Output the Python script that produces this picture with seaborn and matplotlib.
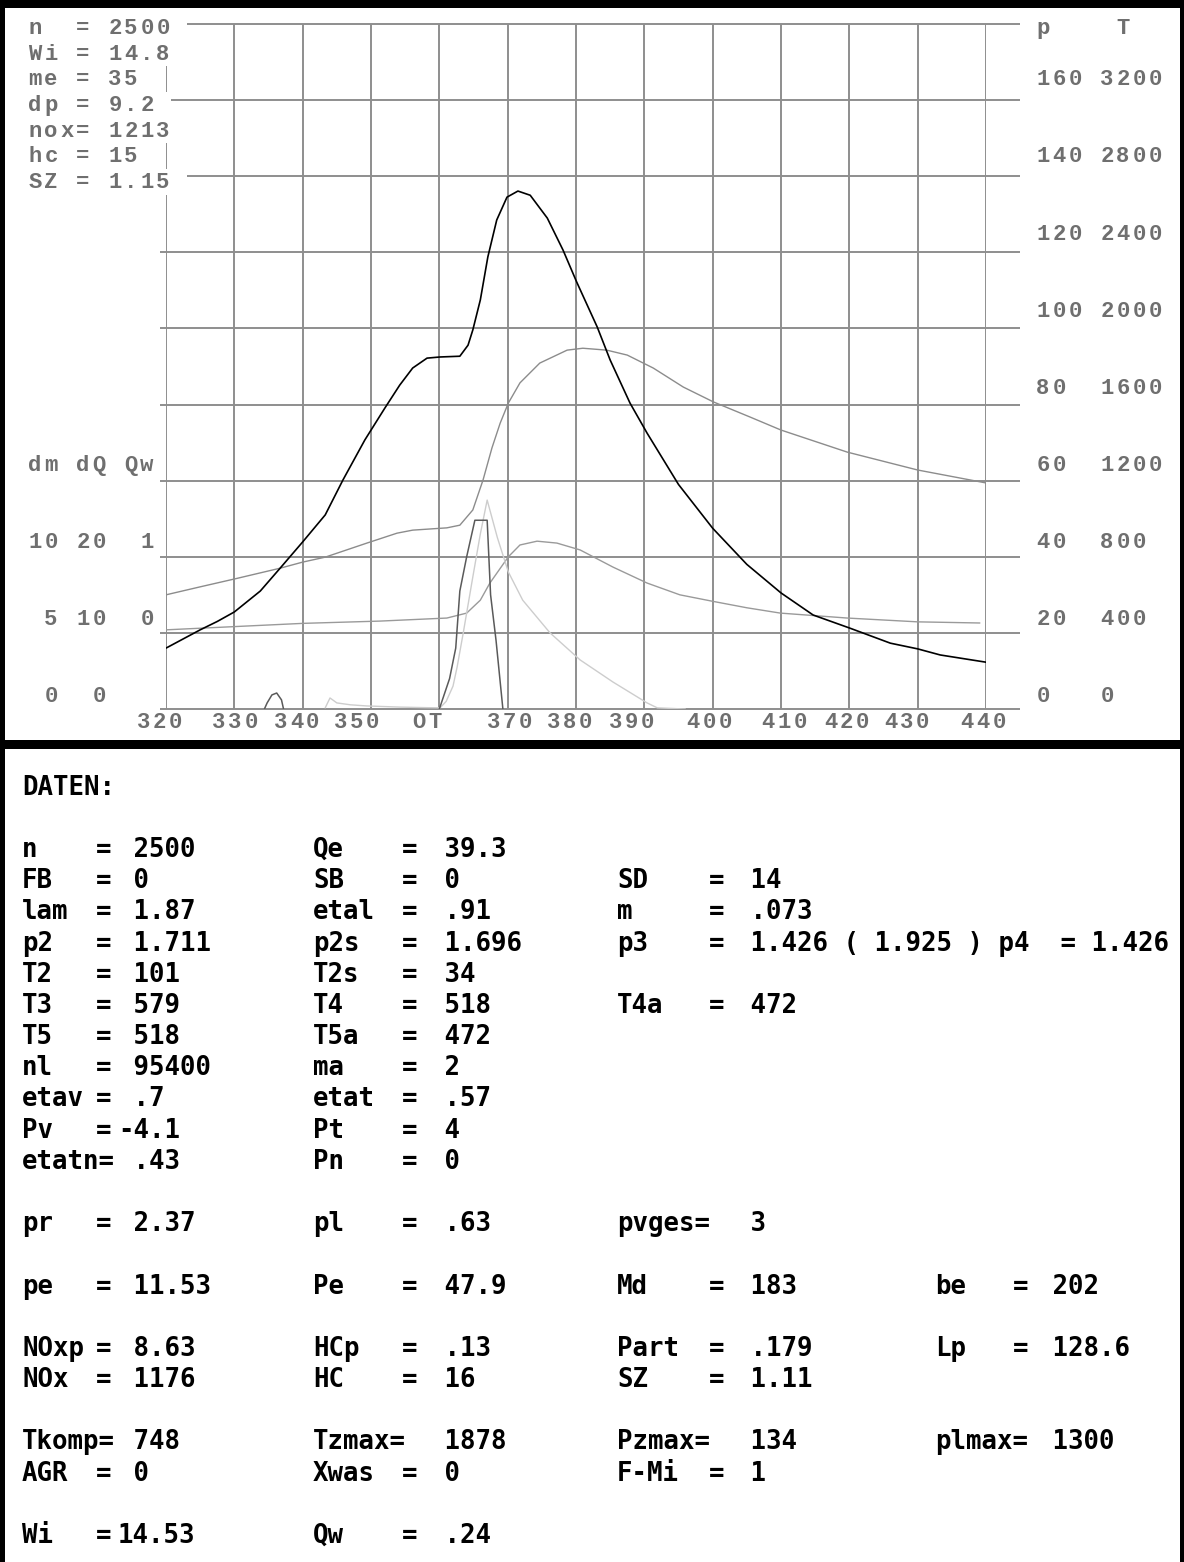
import numpy as np
import pandas as pd
import matplotlib
matplotlib.use("Agg")
import matplotlib.pyplot as plt
from matplotlib.patches import Rectangle
import seaborn as sns

W_PX, H_PX = 1184, 1562
DPI = 100

# crank angle axis
X_GRID = list(range(320, 441, 10))
X_LABELS = ["320", "330", "340", "350", "OT", "370", "380", "390", "400", "410", "420", "430", "440"]
X_LABEL_POS = [319.05, 330.1, 339.1, 347.9, 358.2, 370.3, 379.1, 388.1, 399.5, 410.5, 419.6, 428.4, 439.6]
P_GRID = list(range(0, 181, 20))

# axis scales
P_TICKS = [160, 140, 120, 100, 80, 60, 40, 20, 0]
T_TICKS = [3200, 2800, 2400, 2000, 1600, 1200, 800, 400, 0]
DM_TICKS = [10, 5, 0]
DQ_TICKS = [20, 10, 0]
QW_TICKS = [1, 0]

# run parameters printed in the plot
HEAD_KEYS = ["n", "Wi", "me", "dp", "nox", "hc", "SZ"]
HEAD_VALS = ["2500", "14.8", "35", "9.2", "1213", "15", "1.15"]

# cylinder pressure p [bar]
P_DEG = [320, 325, 327.5, 330, 333.8, 336.7, 340, 343.3, 345.9, 349.1, 352, 354.2, 356.1, 358.2,
         360.1, 363, 364.2, 364.9, 366, 367.1, 368.4, 369.9, 371.5, 373.3, 375.8, 378.1,
         380.1, 383.1, 385, 387.9, 390.4, 395, 400, 405, 410, 414.7, 420, 426, 430, 433.3, 440]
P_VAL = [16.0, 20.8, 23.0, 25.5, 31.0, 37.0, 43.9, 51.0, 60.2, 70.7, 79.0, 85.1, 89.6, 92.2,
         92.5, 92.7, 95.6, 99.6, 107.5, 118.8, 128.5, 134.5, 136.1, 135.0, 129.0, 120.6,
         112.2, 100.4, 91.7, 80.4, 72.5, 59.0, 47.5, 38.0, 30.5, 24.7, 21.3, 17.3, 15.8, 14.2, 12.3]

# gas temperature T
T_DEG = [320, 325, 330.1, 336.7, 340, 343.3, 349.4, 353.8, 356.1, 361.1, 363, 364.9, 366.4,
         367.7, 368.9, 370.1, 371.8, 374.7, 378.7, 381, 384.5, 387.5, 391.3, 395.7, 400.1,
         405.5, 410, 419.7, 430, 440]
T_VAL = [600, 642, 684, 740, 772, 798, 872, 924, 940, 952, 966, 1046, 1204, 1372, 1502, 1608,
         1714, 1818, 1886, 1896, 1886, 1860, 1792, 1692, 1614, 1534, 1466, 1350, 1256, 1188]

# wall heat Qw
QW_DEG = [320, 340, 351.3, 361.1, 364, 366, 367.4, 370.1, 371.8, 374.3, 377.2, 380.6, 385.4,
          390.4, 395.2, 400, 405, 409.9, 419.7, 430, 439.1]
QW_VAL = [0.04, 0.125, 0.155, 0.195, 0.26, 0.43, 0.655, 1.0, 1.155, 1.205, 1.18, 1.09, 0.865,
          0.655, 0.5, 0.415, 0.33, 0.26, 0.195, 0.145, 0.13]

# injection rate dm (pilot + main)
DM_DEG = [334.4, 334.8, 335.5, 336.2, 336.9, 337.2,
          360.0, 361.5, 362.4, 363.0, 364.0, 365.2, 367.0, 367.5, 368.3, 369.3]
DM_VAL = [0, 0.4, 0.925, 1.05, 0.6, 0,
          0, 2.0, 4.0, 7.75, 10.0, 12.4, 12.4, 7.5, 4.5, 0]
DM_PHASE = ["pilot"] * 6 + ["main"] * 10

# heat release rate dQ
DQ_DEG = [343.3, 344.0, 345.0, 347, 349.4, 354.2, 358, 360.1, 361, 362, 362.6, 363.5, 364.9,
          366, 367, 368.5, 370.1, 372.2, 376.2, 380.6, 385.4, 390.4, 391.9, 396]
DQ_VAL = [0.15, 1.45, 0.8, 0.55, 0.4, 0.25, 0.18, 0.15, 1.0, 3.0, 5.5, 10.0, 17.35,
          23.0, 27.45, 22.5, 18.0, 14.3, 10.0, 6.45, 3.55, 0.8, 0.15, 0]

# DATEN table
ROW_IDX = [0, 1, 2, 3, 4, 5, 6, 7, 8, 9, 10, 12, 14, 16, 17, 19, 20, 22]
COL1_LAB = ["n", "FB", "lam", "p2", "T2", "T3", "T5", "nl", "etav", "Pv", "etatn=",
            "pr", "pe", "NOxp", "NOx", "Tkomp=", "AGR", "Wi"]
COL1_VAL = [" 2500", " 0", " 1.87", " 1.711", " 101", " 579", " 518", " 95400", " .7", "-4.1",
            " .43", " 2.37", " 11.53", " 8.63", " 1176", " 748", " 0", "14.53"]
COL2_LAB = ["Qe", "SB", "etal", "p2s", "T2s", "T4", "T5a", "ma", "etat", "Pt", "Pn",
            "pl", "Pe", "HCp", "HC", "Tzmax=", "Xwas", "Qw"]
COL2_VAL = [" 39.3", " 0", " .91", " 1.696", " 34", " 518", " 472", " 2", " .57", " 4", " 0",
            " .63", " 47.9", " .13", " 16", " 1878", " 0", " .24"]
COL3_LAB = ["", "SD", "m", "p3", "", "T4a", "", "", "", "", "",
            "pvges=", "Md", "Part", "SZ", "Pzmax=", "F-Mi", ""]
COL3_VAL = ["", " 14", " .073", " 1.426 ( 1.925 ) p4  = 1.426", "", " 472", "", "", "", "", "",
            " 3", " 183", " .179", " 1.11", " 134", " 1", ""]
COL4_LAB = ["", "", "", "", "", "", "", "", "", "", "",
            "", "be", "Lp", "", "plmax=", "", ""]
COL4_VAL = ["", "", "", "", "", "", "", "", "", "", "",
            "", " 202", " 128.6", "", " 1300", "", ""]

# layout (pixels)
AX_LEFT, AX_RIGHT, AX_BOTTOM, AX_TOP = 166, 986, 709, 24
CELL, X0, ROW0, ROW_H = 16, 27, 27.5, 25.7
GRID_C = "#8e8e8e"
TXT_C = "#6f6f6f"
TOP_FONT = dict(family="Liberation Mono", weight="bold", size=16, color=TXT_C)
BOT_FONT = dict(family="DejaVu Sans Mono", weight="bold", size=18.5, color="black")
BOT_LAB_X = [22, 313, 617, 935]
BOT_EQ_X = [104, 410, 717, 1021]
BOT_VAL_X = [118, 429, 735, 1037]
BOT_BASE, BOT_ROW = 857, 31.18


def cell_text(ov, s, x0, row, white=False):
    yc = ROW0 + ROW_H * row
    if white:
        ov.add_patch(Rectangle((x0, yc - ROW_H / 2), CELL * (len(s) + 1), ROW_H,
                               facecolor="white", edgecolor="none", zorder=1))
    for i, ch in enumerate(s):
        if ch != " ":
            ov.text(x0 + CELL * i + CELL / 2, yc + 6.5, ch, ha="center", va="baseline",
                    zorder=2, **TOP_FONT)


def draw_chart(fig):
    ax = fig.add_axes([AX_LEFT / W_PX, 1 - AX_BOTTOM / H_PX,
                       (AX_RIGHT - AX_LEFT) / W_PX, (AX_BOTTOM - AX_TOP) / H_PX])
    ax.vlines(X_GRID, 0, 180, color=GRID_C, lw=1.4, zorder=1)
    ax.hlines(P_GRID, 319.1, 445, color=GRID_C, lw=1.4, zorder=1, clip_on=False)

    qw = pd.DataFrame({"deg": QW_DEG, "y": [20 + 20 * v for v in QW_VAL]})
    tt = pd.DataFrame({"deg": T_DEG, "y": [v / 20 for v in T_VAL]})
    dq = pd.DataFrame({"deg": DQ_DEG, "y": [2 * v for v in DQ_VAL]})
    dm = pd.DataFrame({"deg": DM_DEG, "y": [4 * v for v in DM_VAL], "phase": DM_PHASE})
    pp = pd.DataFrame({"deg": P_DEG, "y": P_VAL})

    sns.lineplot(data=qw, x="deg", y="y", color="#9a9a9a", lw=1.0, sort=False, estimator=None, ax=ax)
    sns.lineplot(data=tt, x="deg", y="y", color="#8c8c8c", lw=1.0, sort=False, estimator=None, ax=ax)
    sns.lineplot(data=dq, x="deg", y="y", color="#cdcdcd", lw=1.0, sort=False, estimator=None, ax=ax)
    sns.lineplot(data=dm, x="deg", y="y", units="phase", color="#5a5a5a", lw=1.1,
                 sort=False, estimator=None, ax=ax, legend=False)
    sns.lineplot(data=pp, x="deg", y="y", color="black", lw=1.2, sort=False, estimator=None, ax=ax)

    ax.set_xlim(320, 440)
    ax.set_ylim(0, 180)
    ax.set_axis_off()
    return ax


def draw_overlay(fig, ax):
    ov = fig.add_axes([0, 0, 1, 1], zorder=5)
    ov.set_xlim(0, W_PX)
    ov.set_ylim(H_PX, 0)
    ov.set_axis_off()
    ov.patch.set_visible(False)

    # parameter block
    for r, (k, v) in enumerate(zip(HEAD_KEYS, HEAD_VALS)):
        cell_text(ov, f"{k:<3}= {v}", X0, r, white=True)

    # right scales p / T
    cell_text(ov, "p    T", 1035, 0)
    for i, (p, t) in enumerate(zip(P_TICKS, T_TICKS)):
        cell_text(ov, f"{p:<3} {t}", 1035, 2 + 3 * i)

    # left scales dm / dQ / Qw
    cell_text(ov, "dm dQ Qw", X0, 17)
    for i, (m, q) in enumerate(zip(DM_TICKS, DQ_TICKS)):
        s = f"{m:>2} {q:>2}"
        if i < len(QW_TICKS):
            s += f" {QW_TICKS[i]:>2}"
        cell_text(ov, s, X0, 20 + 3 * i)

    # crank angle labels
    for lab, pos in zip(X_LABELS, X_LABEL_POS):
        xc = ax.transData.transform((pos, 0))[0]
        cell_text(ov, lab, xc - CELL * len(lab) / 2, 27)

    # frames
    for x, y, w, h in [(0, 0, W_PX, 8), (0, 0, 5, H_PX), (W_PX - 4, 0, 4, H_PX), (0, 740, W_PX, 9)]:
        ov.add_patch(Rectangle((x, y), w, h, facecolor="black", edgecolor="none", zorder=3))

    # DATEN table
    ov.text(BOT_LAB_X[0], BOT_BASE - 2 * BOT_ROW, "DATEN:", ha="left", va="baseline", **BOT_FONT)
    cols = [(COL1_LAB, COL1_VAL), (COL2_LAB, COL2_VAL), (COL3_LAB, COL3_VAL), (COL4_LAB, COL4_VAL)]
    for c, (labs, vals) in enumerate(cols):
        for row, lab, val in zip(ROW_IDX, labs, vals):
            if not lab:
                continue
            yb = BOT_BASE + BOT_ROW * row
            ov.text(BOT_LAB_X[c], yb, lab, ha="left", va="baseline", **BOT_FONT)
            if not lab.endswith("="):
                ov.text(BOT_EQ_X[c], yb, "=", ha="center", va="baseline", **BOT_FONT)
            ov.text(BOT_VAL_X[c], yb, val, ha="left", va="baseline", **BOT_FONT)


if __name__ == "__main__":
    sns.set_style("white")
    plt.rcParams["font.family"] = ["DejaVu Sans Mono", "DejaVu Sans"]
    fig = plt.figure(figsize=(W_PX / DPI, H_PX / DPI), dpi=DPI, facecolor="white")
    ax = draw_chart(fig)
    draw_overlay(fig, ax)
    fig.savefig("out.png", dpi=DPI, facecolor="white")
    plt.close(fig)
